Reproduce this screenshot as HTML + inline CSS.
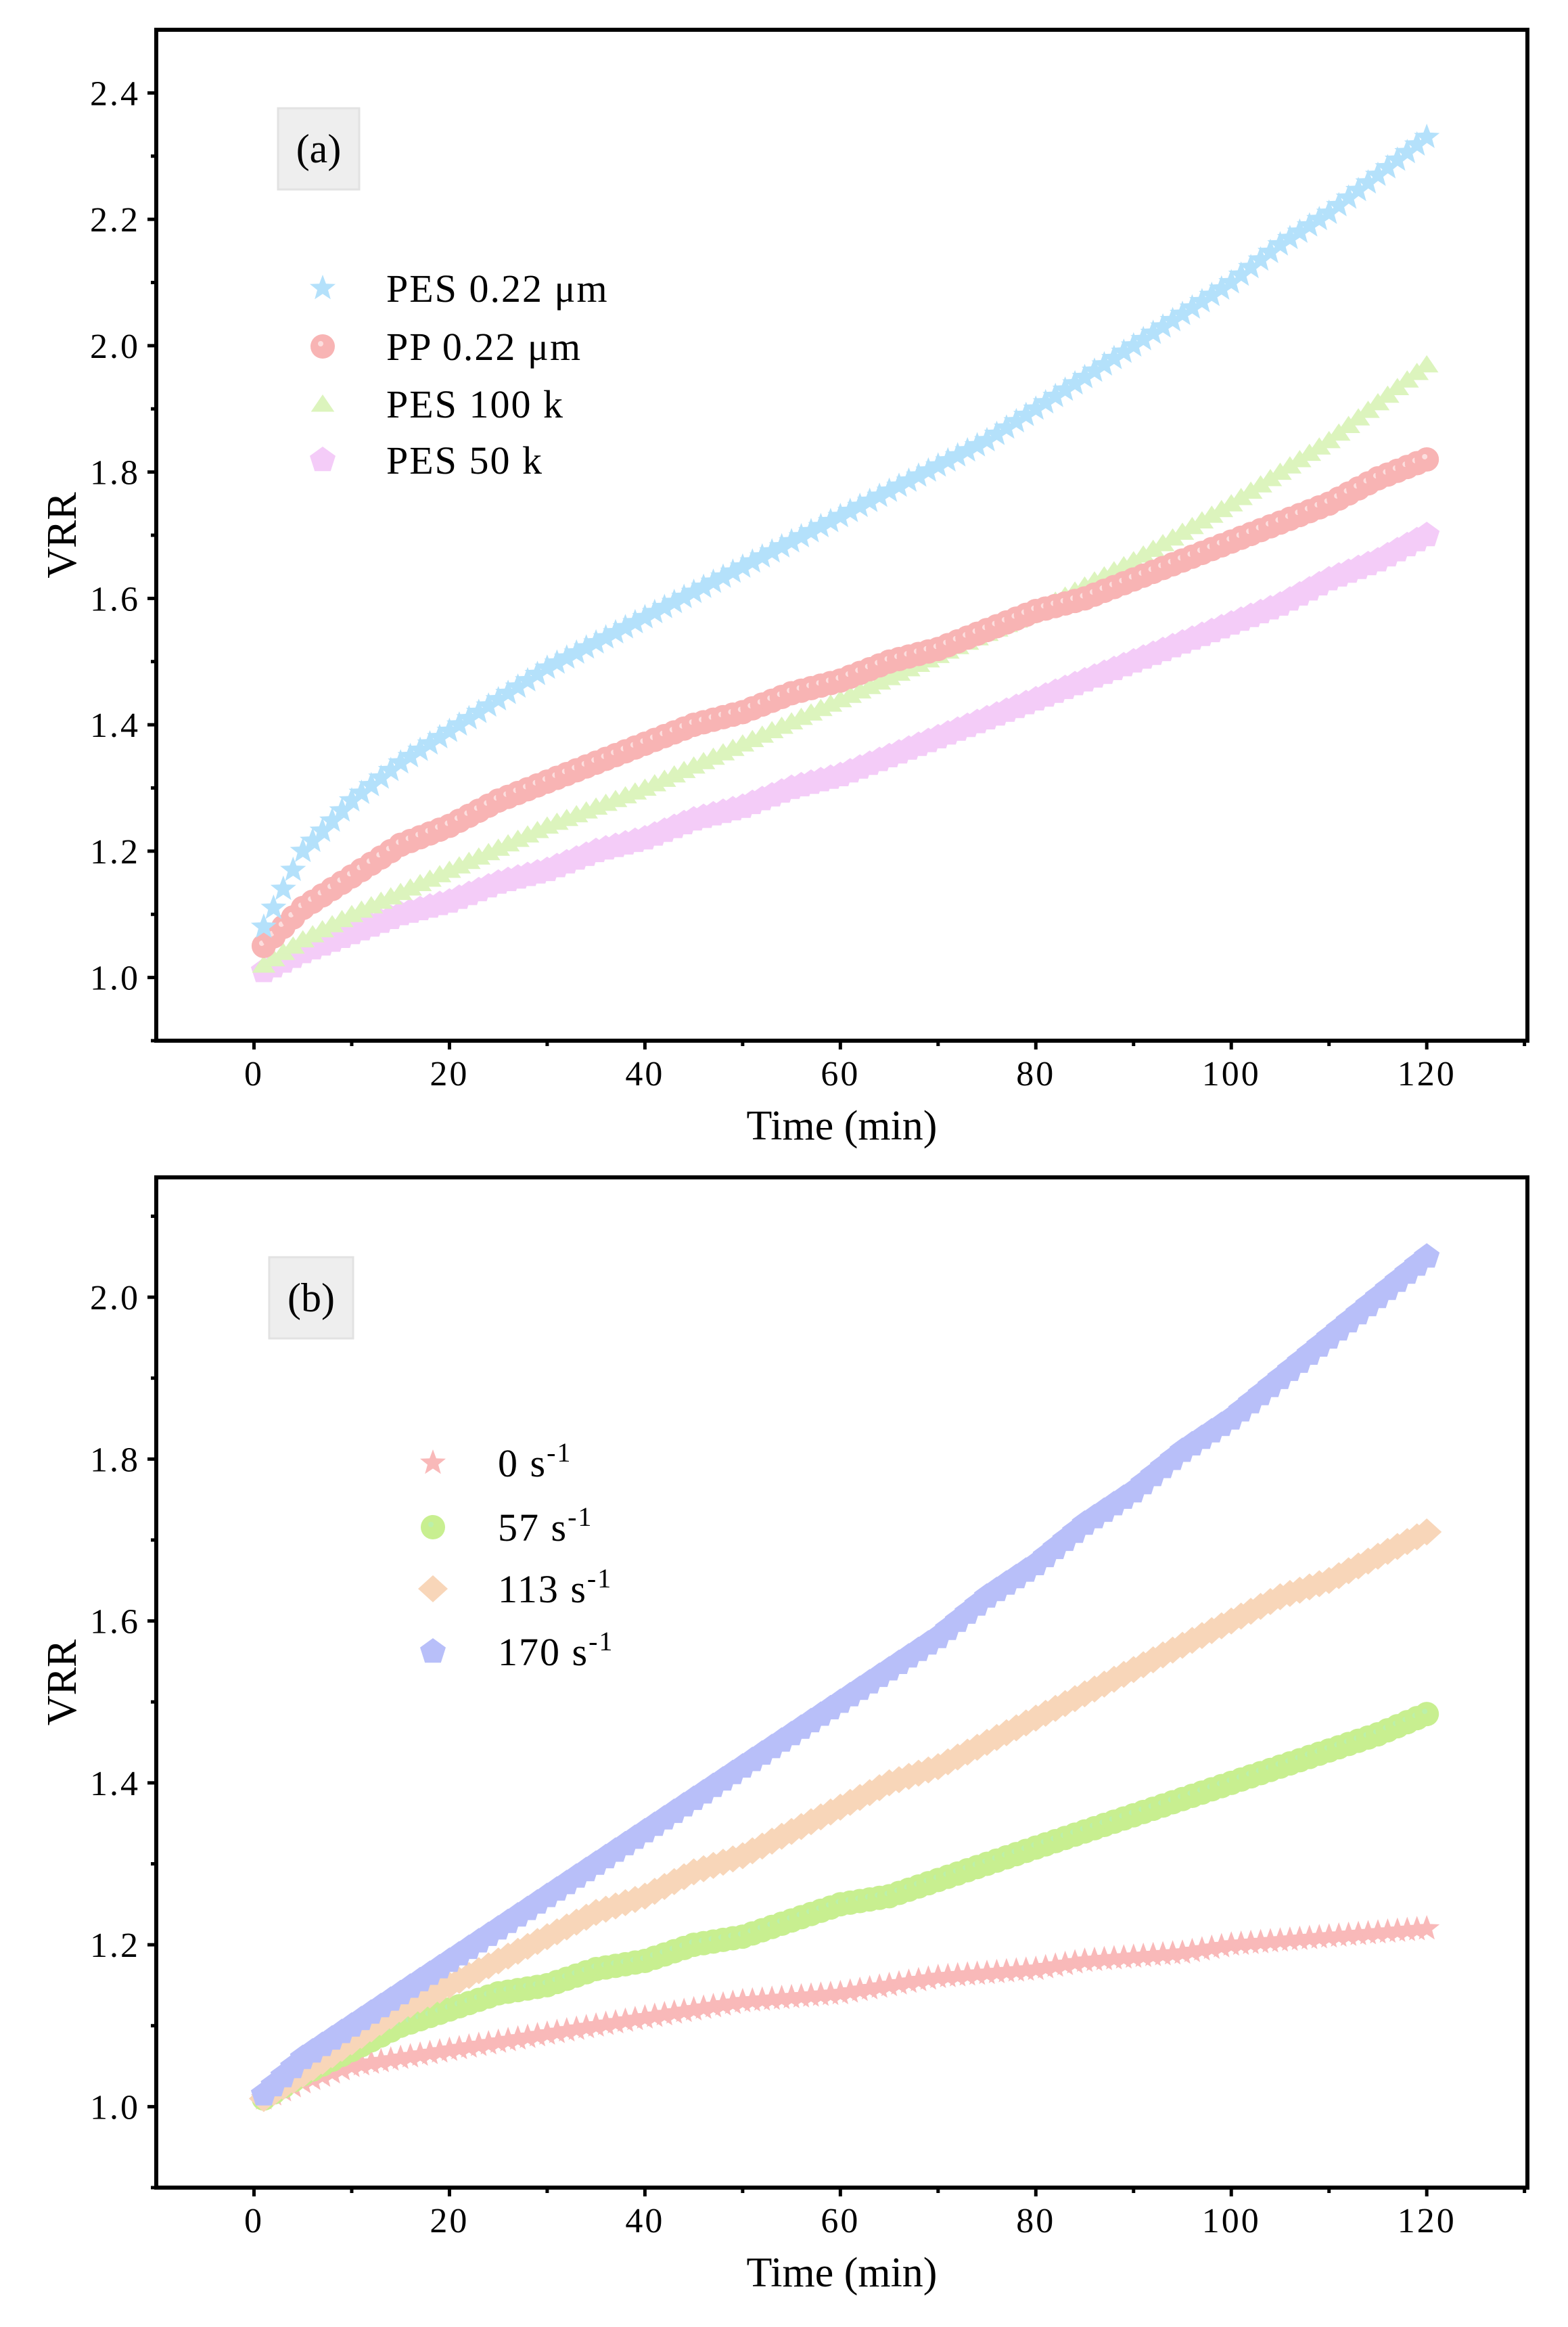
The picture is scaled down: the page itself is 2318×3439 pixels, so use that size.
<!DOCTYPE html>
<html><head><meta charset="utf-8"><style>
html,body{margin:0;padding:0;background:#fff}
svg{display:block}
text{font-family:"Liberation Serif",serif;fill:#000}
</style></head><body>
<svg id="fig" width="2318" height="3439" viewBox="0 0 2318 3439" xmlns="http://www.w3.org/2000/svg"></svg>
<script>
const times=[1,5,10,15,20,25,30,35,40,45,50,55,60,65,70,75,80,85,90,95,100,105,110,115,120];
const pes022=[1.08,1.2,1.28,1.34,1.39,1.44,1.49,1.53,1.57,1.61,1.65,1.69,1.73,1.77,1.81,1.85,1.90,1.95,2.00,2.05,2.10,2.16,2.21,2.27,2.33];
const pp022=[1.05,1.11,1.16,1.21,1.24,1.28,1.31,1.34,1.37,1.40,1.42,1.45,1.47,1.50,1.52,1.55,1.58,1.60,1.63,1.66,1.69,1.72,1.75,1.79,1.82];
const pes100k=[1.02,1.06,1.10,1.135,1.17,1.205,1.24,1.27,1.30,1.335,1.37,1.405,1.44,1.475,1.51,1.545,1.58,1.62,1.66,1.705,1.75,1.80,1.85,1.91,1.97];
const pes50k=[1.01,1.04,1.07,1.10,1.12,1.15,1.17,1.20,1.22,1.25,1.27,1.30,1.32,1.35,1.38,1.41,1.44,1.47,1.50,1.53,1.56,1.59,1.63,1.66,1.70];
const shear0=[1.01,1.03,1.05,1.06,1.07,1.08,1.09,1.10,1.11,1.12,1.13,1.135,1.14,1.15,1.16,1.165,1.17,1.18,1.185,1.19,1.20,1.205,1.21,1.215,1.22];
const shear57=[1.01,1.04,1.07,1.10,1.12,1.14,1.15,1.17,1.18,1.20,1.21,1.23,1.25,1.26,1.28,1.30,1.32,1.34,1.36,1.38,1.40,1.42,1.44,1.46,1.485];
const shear113=[1.01,1.04,1.08,1.12,1.15,1.18,1.21,1.24,1.26,1.29,1.31,1.34,1.37,1.40,1.42,1.45,1.48,1.51,1.54,1.57,1.60,1.63,1.65,1.68,1.71];
const shear170=[1.015,1.06,1.10,1.14,1.18,1.22,1.26,1.30,1.34,1.38,1.42,1.46,1.50,1.54,1.58,1.63,1.67,1.72,1.76,1.81,1.85,1.90,1.95,2.00,2.05];
const xTicks=[0,20,40,60,80,100,120];
const yTicksA=[1.0,1.2,1.4,1.6,1.8,2.0,2.2,2.4];
const yTicksB=[1.0,1.2,1.4,1.6,1.8,2.0];

const NS="http://www.w3.org/2000/svg";
const svg=document.getElementById('fig');
function mk(tag,attrs,parent){const e=document.createElementNS(NS,tag);for(const k in attrs)e.setAttribute(k,attrs[k]);(parent||svg).appendChild(e);return e;}

function markerPath(shape,cx,cy,r){
  let pts=[];
  if(shape==='star'){for(let i=0;i<10;i++){const a=-Math.PI/2+i*Math.PI/5;const rr=i%2?r*0.42:r;pts.push([cx+rr*Math.cos(a),cy+rr*Math.sin(a)]);}}
  else if(shape==='tri'){for(let i=0;i<3;i++){const a=-Math.PI/2+i*2*Math.PI/3;pts.push([cx+r*Math.cos(a),cy+r*0.85*Math.sin(a)+r*0.15]);}}
  else if(shape==='pent'){for(let i=0;i<5;i++){const a=-Math.PI/2+i*2*Math.PI/5;pts.push([cx+r*Math.cos(a),cy+r*Math.sin(a)]);}}
  else if(shape==='diam'){pts=[[cx,cy-r],[cx+r*1.1,cy],[cx,cy+r],[cx-r*1.1,cy]];}
  return 'M'+pts.map(p=>p[0].toFixed(1)+','+p[1].toFixed(1)).join('L')+'Z';
}
function drawMarker(g,shape,x,y,color,hi){
  const r=20;
  if(shape==='circ'){
    const c=mk('circle',{cx:x,cy:y,r:r-2,fill:color},g);
    
    
    if(hi){const h=mk('circle',{cx:x-3,cy:y-4,r:4,fill:hi,opacity:0.8},g);
      
      }
  } else {
    const p=mk('path',{d:markerPath(shape,x,y,r),fill:color},g);
    
    
  }
}

function panel(cfg){
  const {L,R,T,B,xmin,xmax,ymin,ymax,yTicks,series,tag,tagBox,legend,name}=cfg;
  const X=v=>L+(v-xmin)/(xmax-xmin)*(R-L);
  const Y=v=>B-(v-ymin)/(ymax-ymin)*(B-T);
  const g=mk('g',{});
  
  
  series.forEach(s=>{
    const sg=mk('g',{},g);
    
    
    const d=s.data;
    for(let i=0;i<times.length;i++){
      drawMarker(sg,s.shape,X(times[i]),Y(d[i]),s.color,s.hi);
      if(i<times.length-1){
        const span=times[i+1]-times[i];
        for(let k=1;k<span;k++){const f=k/span;
          drawMarker(sg,s.shape,X(times[i]+k),Y(d[i]+(d[i+1]-d[i])*f),s.color,s.hi);}
      }
    }
  });
  const fr=mk('rect',{x:L,y:T,width:R-L,height:B-T,fill:'none',stroke:'#000','stroke-width':6},g);
  
  
  xTicks.forEach(v=>{
    const t=mk('line',{x1:X(v),x2:X(v),y1:B,y2:B+13,stroke:'#000','stroke-width':5},g);
    
    
    const m=mk('line',{x1:X(v+10),x2:X(v+10),y1:B,y2:B+8,stroke:'#000','stroke-width':5},g);
    
    
    const tx=mk('text',{x:X(v),y:B+66,'font-size':52,'text-anchor':'middle','letter-spacing':3},g);
    tx.textContent=v;
    
    
  });
  yTicks.forEach(v=>{
    const t=mk('line',{x1:L-13,x2:L,y1:Y(v),y2:Y(v),stroke:'#000','stroke-width':5},g);
    
    
    const mv=v+0.1;
    if(mv<ymax){const m=mk('line',{x1:L-8,x2:L,y1:Y(mv),y2:Y(mv),stroke:'#000','stroke-width':5},g);
      
      }
    const tx=mk('text',{x:L-24,y:Y(v)+18,'font-size':52,'text-anchor':'end','letter-spacing':3},g);
    tx.textContent=v.toFixed(1);
    
    
  });
  const mv0=yTicks[0]-0.1;
  const m0=mk('line',{x1:L-8,x2:L,y1:Y(mv0),y2:Y(mv0),stroke:'#000','stroke-width':5},g);
  
  
  const xt=mk('text',{x:(L+R)/2,y:B+146,'font-size':62,'text-anchor':'middle'},g);
  xt.textContent='Time (min)';
  
  
  const cy=(T+B)/2;
  const yt=mk('text',{x:0,y:0,'font-size':62,'text-anchor':'middle',transform:`translate(112,${cy}) rotate(-90)`},g);
  yt.textContent='VRR';
  
  
  const tb=mk('rect',{x:tagBox[0],y:tagBox[1],width:tagBox[2],height:tagBox[3],fill:'#eeeeee',stroke:'#e2e2e2','stroke-width':3},g);
  
  
  const tt=mk('text',{x:tagBox[0]+tagBox[2]/2,y:tagBox[1]+tagBox[3]/2+20,'font-size':60,'text-anchor':'middle'},g);
  tt.textContent=tag;
  
  
  const lg=mk('g',{},g);
  
  
  legend.rows.forEach((ry,i)=>{
    const s=legend.order[i];
    const eg=mk('g',{},lg);
    
    
    drawMarker(eg,s.shape,legend.mx,ry,s.color,s.hi);
    const t=mk('text',{x:legend.tx,y:ry+20,'font-size':58,'letter-spacing':2},eg);
    t.innerHTML=s.label;
    
    
  });
}

const sA=[
 {id:'pes-022',data:pes022,shape:'star',color:'#b4e1fb',label:'PES 0.22 μm'},
 {id:'pp-022',data:pp022,shape:'circ',color:'#f8b4b4',hi:'#fde8e8',label:'PP 0.22 μm'},
 {id:'pes-100k',data:pes100k,shape:'tri',color:'#dcf4bd',label:'PES 100 k'},
 {id:'pes-50k',data:pes50k,shape:'pent',color:'#f4ccf8',label:'PES 50 k'}];
panel({name:'panel-a',L:231,R:2258,T:44,B:1538,xmin:-10,xmax:130.3,ymin:0.9,ymax:2.5,yTicks:yTicksA,
 series:[sA[3],sA[2],sA[1],sA[0]],tag:'(a)',tagBox:[411,160,120,120],
 legend:{mx:477,tx:571,rows:[426,512,597,680],order:sA}});

const sB=[
 {id:'0-s',data:shear0,shape:'star',color:'#f9b9b9',label:'0 s<tspan dy="-22" font-size="40">-1</tspan>'},
 {id:'57-s',data:shear57,shape:'circ',color:'#c8ef90',hi:'#b8f0b0',label:'57 s<tspan dy="-22" font-size="40">-1</tspan>'},
 {id:'113-s',data:shear113,shape:'diam',color:'#f8d6b9',label:'113 s<tspan dy="-22" font-size="40">-1</tspan>'},
 {id:'170-s',data:shear170,shape:'pent',color:'#b8bff9',label:'170 s<tspan dy="-22" font-size="40">-1</tspan>'}];
panel({name:'panel-b',L:231,R:2258,T:1740,B:3233,xmin:-10,xmax:130.3,ymin:0.9,ymax:2.148,yTicks:yTicksB,
 series:[sB[0],sB[1],sB[2],sB[3]],tag:'(b)',tagBox:[398,1858,124,120],
 legend:{mx:640,tx:736,rows:[2162,2257,2348,2441],order:sB}});
</script>
</body></html>
